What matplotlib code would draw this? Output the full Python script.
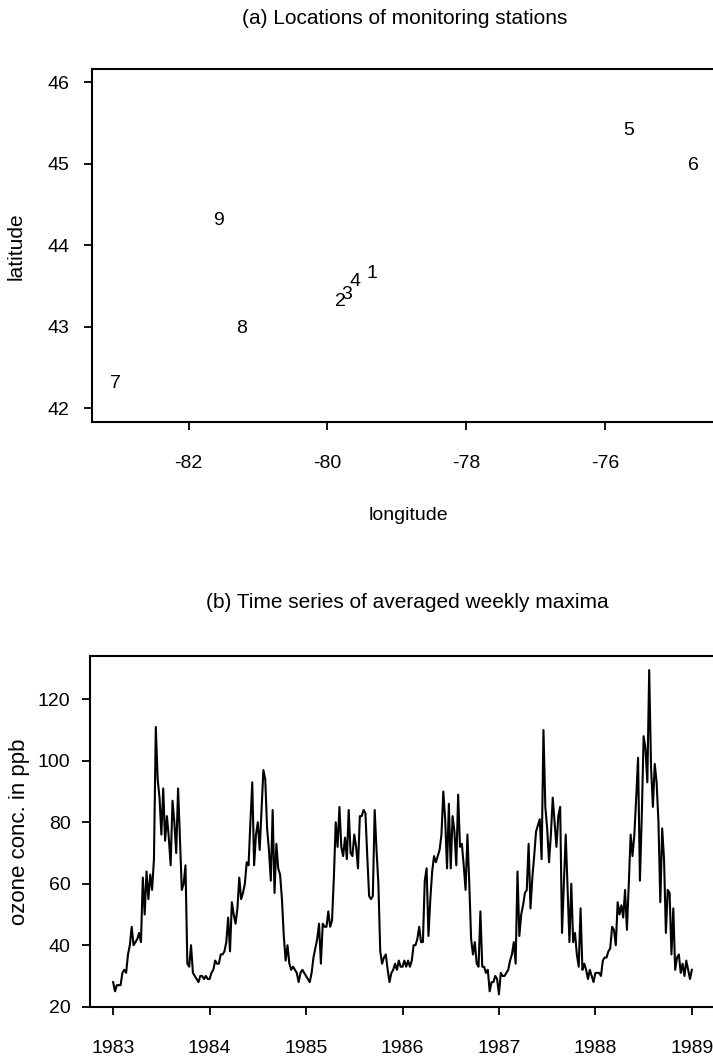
import matplotlib
matplotlib.use("Agg")
import matplotlib.pyplot as plt
import numpy as np

plt.rcParams['font.family'] = ['Liberation Sans', 'DejaVu Sans']
plt.rcParams['axes.unicode_minus'] = False

# station locations (longitude, latitude) and their labels
station_ids = ["1", "2", "3", "4", "5", "6", "7", "8", "9"]
station_lon = [-79.36, -79.81, -79.72, -79.60, -75.66, -74.73, -83.05, -81.23, -81.57]
station_lat = [43.65, 43.31, 43.40, 43.56, 45.41, 44.98, 42.31, 42.98, 44.30]

# averaged weekly maxima (ppb), one list per year
ozone_1983 = [28, 25, 27, 27, 27, 31, 32, 31, 37, 40, 46, 40, 41, 42, 44, 41, 62, 50, 64, 55,
              63, 58, 68, 111, 94, 88, 76, 91, 74, 82, 75, 66, 87, 80, 70, 91, 75, 58, 60, 66,
              34, 33, 40, 31, 30, 29, 28, 30, 30, 29, 30, 29]
ozone_1984 = [29, 31, 32, 35, 34, 34, 37, 37, 38, 41, 49, 38, 54, 50, 47, 52, 62, 55, 57, 60,
              67, 66, 80, 93, 66, 76, 80, 71, 84, 97, 94, 78, 71, 61, 84, 57, 73, 65, 63, 55,
              43, 35, 40, 34, 32, 33, 32, 31, 28, 31, 32, 31]
ozone_1985 = [30, 29, 28, 31, 36, 39, 42, 47, 34, 47, 46, 46, 51, 46, 48, 62, 80, 72, 85, 72,
              69, 75, 68, 84, 70, 69, 76, 72, 65, 82, 82, 84, 83, 69, 56, 55, 56, 84, 71, 60,
              38, 34, 36, 37, 32, 28, 31, 32, 34, 32, 35, 33]
ozone_1986 = [33, 35, 33, 35, 33, 35, 40, 40, 42, 46, 41, 41, 61, 65, 43, 55, 64, 69, 67, 69,
              71, 76, 90, 81, 65, 86, 65, 82, 77, 66, 89, 72, 73, 66, 58, 76, 60, 42, 37, 41,
              34, 33, 51, 33, 33, 31, 32, 25, 28, 28, 30, 29]
ozone_1987 = [24, 31, 30, 30, 31, 32, 35, 37, 41, 34, 64, 43, 50, 53, 57, 58, 73, 52, 62, 69,
              77, 79, 81, 68, 110, 85, 78, 67, 76, 88, 80, 72, 82, 85, 44, 60, 76, 58, 41, 60,
              41, 44, 37, 33, 52, 32, 34, 32, 29, 32, 30, 28]
ozone_1988 = [31, 31, 31, 30, 35, 36, 36, 38, 39, 46, 45, 40, 54, 50, 53, 49, 58, 45, 60, 76,
              69, 76, 88, 101, 61, 82, 108, 104, 93, 129.5, 98, 85, 99, 93, 80, 54, 78, 68, 44, 58,
              57, 37, 52, 32, 36, 37, 31, 34, 30, 35, 32, 29, 32]

lon_ticks = [-82, -80, -78, -76]
lat_ticks = [42, 43, 44, 45, 46]
year_ticks = [1983, 1984, 1985, 1986, 1987, 1988, 1989]
ppb_ticks = [20, 40, 60, 80, 100, 120]

ozone = np.array(ozone_1983 + ozone_1984 + ozone_1985 + ozone_1986 + ozone_1987 + ozone_1988)
weeks = 1983 + np.arange(len(ozone)) / 52.0

W, H = 713, 1061
fig = plt.figure(figsize=(W / 100, H / 100), dpi=100)

def px_axes(left, top, right, bottom):
    return fig.add_axes([left / W, 1 - bottom / H, (right - left) / W, (bottom - top) / H])

# (a) station map
ax1 = px_axes(92, 69, 717, 421.5)
for sid, lo, la in zip(station_ids, station_lon, station_lat):
    ax1.text(lo, la, sid, ha="center", va="center", fontsize=14)
ax1.set_xlim(-83.39, -74.39)
ax1.set_ylim(41.84, 46.16)
ax1.set_xticks(lon_ticks)
ax1.set_yticks(lat_ticks)
ax1.tick_params(axis="x", length=6, width=1.3, pad=18, labelsize=14)
ax1.tick_params(axis="y", length=6, width=1.3, pad=10, labelsize=14)
for s in ax1.spines.values():
    s.set_linewidth(1.5)

fig.text(405 / W, 1 - 18 / H, "(a) Locations of monitoring stations",
         ha="center", va="center", fontsize=15)
fig.text(408 / W, 1 - 516 / H, "longitude", ha="center", va="center", fontsize=14)
fig.text(16 / W, 1 - 246 / H, "latitude", ha="center", va="center", rotation=90, fontsize=15)

# (b) time series
ax2 = px_axes(90, 656, 715, 1007)
ax2.plot(weeks, ozone, color="black", linewidth=1.5)
ax2.set_xlim(1982.76, 1989.24)
ax2.set_ylim(19.9, 134.1)
ax2.set_xticks(year_ticks)
ax2.set_yticks(ppb_ticks)
ax2.tick_params(axis="x", length=6, width=1.3, pad=18, labelsize=14)
ax2.tick_params(axis="y", length=6, width=1.3, pad=8, labelsize=14)
for s in ax2.spines.values():
    s.set_linewidth(1.5)

fig.text(407 / W, 1 - 603 / H, "(b) Time series of averaged weekly maxima",
         ha="center", va="center", fontsize=15)
fig.text(20 / W, 1 - 832 / H, "ozone conc. in ppb", ha="center", va="center",
         rotation=90, fontsize=16)

fig.savefig("out.png", dpi=100)
